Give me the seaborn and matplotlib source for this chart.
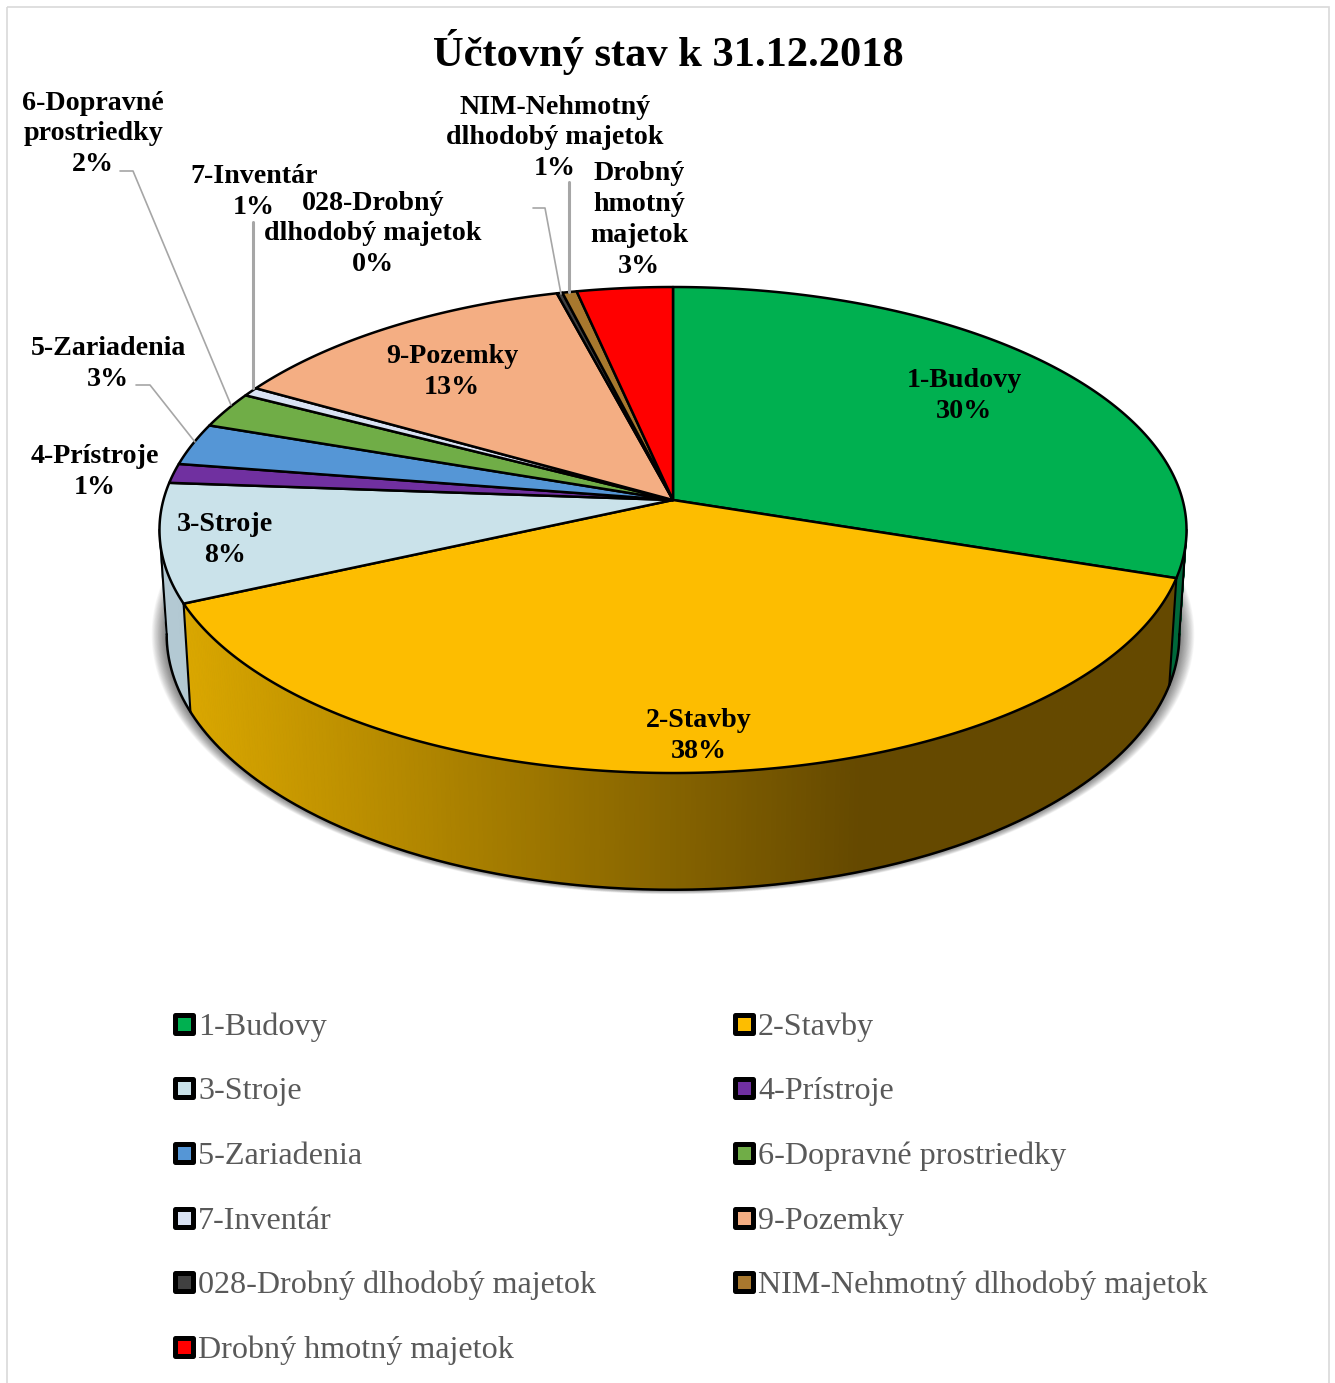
import numpy as np
import pandas as pd
import matplotlib
matplotlib.use("Agg")
import matplotlib.pyplot as plt
import seaborn as sns
from matplotlib.patches import Rectangle

# values (percent of total)
names = ["1-Budovy", "2-Stavby", "3-Stroje", "4-Prístroje", "5-Zariadenia",
         "6-Dopravné prostriedky", "7-Inventár", "9-Pozemky",
         "028-Drobný dlhodobý majetok", "NIM-Nehmotný dlhodobý majetok",
         "Drobný hmotný majetok"]
values = [30.1, 38.2, 7.9, 1.3, 2.8, 2.4, 0.6, 12.65, 0.2, 0.51, 3.4]
colors = ["#00B050", "#FDBD00", "#CAE2EA", "#7030A0", "#5596D6", "#70AD47",
          "#D9E2F3", "#F4AE83", "#404040", "#A8782E", "#FF0000"]
wall_colors = {0: "#00693A", 2: "#B3C9D3"}
wrapped = ["1-Budovy", "2-Stavby", "3-Stroje", "4-Prístroje", "5-Zariadenia",
           "6-Dopravné\nprostriedky", "7-Inventár", "9-Pozemky",
           "028-Drobný\ndlhodobý majetok", "NIM-Nehmotný\ndlhodobý majetok",
           "Drobný\nhmotný\nmajetok"]
label_pos = [(964, 396), (699, 736), (225, 540), (95, 472), (108, 364), (93, 134),
             (254, 192), (452, 372), (373, 234), (555, 138), (639, 220)]
title = "Účtovný stav k 31.12.2018"

# leader lines, pixel coordinates of the figure
leaders = [([120, 133, 231], [171, 171, 405], 1.2),
           ([136, 150, 195], [385, 385, 442], 1.2),
           ([253, 253], [222, 388], 2.2),
           ([533, 545, 561], [208, 208, 294], 1.2),
           ([569, 569], [182, 292], 2.2)]

sns.set_theme(style="white")
plt.rcParams["font.family"] = ["Liberation Serif", "DejaVu Serif"]

# projection of the tilted pie
CX, CY = 673.0, 500.0
A, B, K = 509.6, 239.3, 0.1235


def project(deg):
    t = np.radians(deg)
    x, y = np.sin(t), np.cos(t)
    w = 1 + K * y
    return CX + A * x / w, CY - B * y / w


def lower(px, py):
    # bottom rim of the wall below a point of the top rim
    return CX + 0.986 * (px - CX), py + 107 + 0.05 * (py - 578)


def wall_shade(px):
    f = np.clip((px - 183) / (860 - 183), 0, 1)
    return (np.array([218, 167, 0]) * (1 - f) + np.array([101, 73, 0]) * f) / 255


fig = plt.figure(figsize=(13.35, 13.83), dpi=100)
ax = fig.add_axes([0, 0, 1, 1])
ax.set_xlim(0, 1335)
ax.set_ylim(1383, 0)
ax.axis("off")
ax.add_patch(Rectangle((7, 7), 1322, 1385, fill=False, ec="#D9D9D9", lw=1.2))

edges = np.concatenate([[0], np.cumsum(values)]) / np.sum(values) * 360

# soft shadow under the wall
rim = np.linspace(60, 300, 300)
rx, ry = project(rim)
bx, by = lower(rx, ry)
for grow in np.linspace(15, 0, 20):
    sx = CX + (bx - CX) * (1 + grow / 506)
    sy = 640 + (by - 640) * (1 + grow * 0.3 / 250)
    ax.fill(sx, sy, color="black", alpha=0.03, lw=0, zorder=1)

# wall, from the right silhouette to the left one
VIS_FROM, VIS_TO = 97.0, 263.0
for i in range(len(values)):
    a0, a1 = max(edges[i], VIS_FROM), min(edges[i + 1], VIS_TO)
    if a1 <= a0:
        continue
    steps = np.linspace(a0, a1, max(int((a1 - a0) * 2), 2))
    for s0, s1 in zip(steps[:-1], steps[1:]):
        tx, ty = project(np.array([s0, s1]))
        dx, dy = lower(tx, ty)
        col = wall_shade(tx.mean()) if i == 1 else wall_colors.get(i, colors[i])
        ax.fill([tx[0], tx[1], dx[1], dx[0]], [ty[0], ty[1], dy[1], dy[0]],
                color=col, lw=0.8, zorder=2)

# outline of the wall
tx, ty = project(np.linspace(VIS_FROM, VIS_TO, 300))
dx, dy = lower(tx, ty)
ax.plot(dx, dy, color="black", lw=1.8, zorder=3)
for a in [VIS_FROM, edges[1], edges[2], VIS_TO]:
    tx, ty = project(a)
    dx, dy = lower(tx, ty)
    ax.plot([tx, dx], [ty, dy], color="black", lw=1.5, zorder=3)

# top face
for i, col in enumerate(colors):
    arc = np.linspace(edges[i], edges[i + 1], max(int(values[i] * 8), 3))
    px, py = project(arc)
    ax.fill(np.r_[CX, px], np.r_[CY, py], facecolor=col, edgecolor="black",
            lw=1.8, joinstyle="round", zorder=4)

for xs, ys, lw in leaders:
    ax.plot(xs, ys, color="#A6A6A6", lw=lw, zorder=5)

# data labels
for name, val, (lx, ly) in zip(wrapped, values, label_pos):
    ax.text(lx, ly, f"{name}\n{val:.0f}%", ha="center", va="center", fontsize=20.2,
            fontweight="bold", color="black", linespacing=1.31, zorder=6)

ax.text(668, 52, title, ha="center", va="center", fontsize=30.6, fontweight="bold",
        color="black", zorder=6)

# legend, two columns filled row by row
row_y = [1024, 1088, 1153, 1218, 1282, 1347]
col_x = [184, 744]
legend = pd.DataFrame({
    "name": names,
    "x": [col_x[i % 2] for i in range(len(names))],
    "y": [row_y[i // 2] for i in range(len(names))],
})
sns.scatterplot(data=legend, x="x", y="y", hue="name", palette=colors, marker="s",
                s=150, edgecolor="black", linewidth=3.6, legend=False, ax=ax, zorder=6)
ax.collections[-1].set_joinstyle("round")
ax.set_xlim(0, 1335)
ax.set_ylim(1383, 0)
ax.axis("off")
for _, row in legend.iterrows():
    ax.text(row["x"] + 14, row["y"], row["name"], ha="left", va="center_baseline",
            fontsize=23.1, color="#595959", zorder=6)

fig.savefig("out.png", dpi=100)
